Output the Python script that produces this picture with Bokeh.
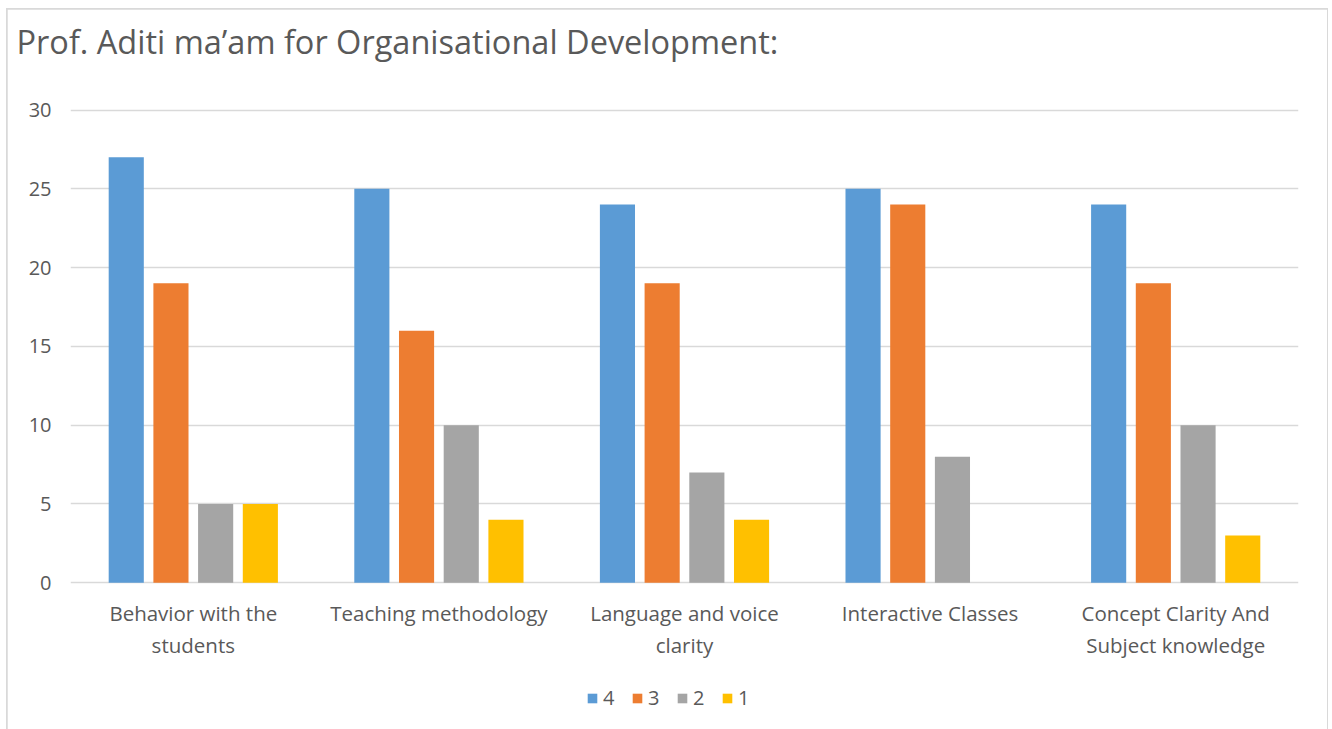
from bokeh.plotting import figure
from bokeh.models import ColumnDataSource, FactorRange, Range1d, FixedTicker, Legend, LegendItem, Title
from bokeh.transform import dodge
from bokeh.core.properties import value
from bokeh.embed import file_html
from bokeh.resources import INLINE

title_text = "Prof. Aditi ma\u2019am for Organisational Development:"
categories = ["Behavior with the students", "Teaching methodology", "Language and voice clarity",
              "Interactive Classes", "Concept Clarity And Subject knowledge"]
tick_labels = ["Behavior with the\nstudents", "Teaching methodology", "Language and voice\nclarity",
               "Interactive Classes", "Concept Clarity And\nSubject knowledge"]
series_names = ["4", "3", "2", "1"]
s4 = [27, 25, 24, 25, 24]
s3 = [19, 16, 19, 24, 19]
s2 = [5, 10, 7, 8, 10]
s1 = [5, 4, 4, 0, 3]
y_ticks = [0, 5, 10, 15, 20, 25, 30]

colors = ["#5B9BD5", "#ED7D31", "#A5A5A5", "#FFC000"]
FONT = "Open Sans"
TXT = "#595959"

source = ColumnDataSource(dict(cat=categories, lab=tick_labels, s4=s4, s3=s3, s2=s2, s1=s1))

p = figure(frame_width=1228, frame_height=616, output_backend="svg", toolbar_location=None,
           x_range=FactorRange(*categories, range_padding=0), y_range=Range1d(-9.0, 30.1),
           min_border_left=63, min_border_right=29, min_border_top=99, min_border_bottom=5)
p.x_range.factor_padding = 0
p.title_location = None

spacer = Title(text=".", text_font_size="2px", text_color="#FFFFFF", standoff=32)
p.add_layout(spacer, "above")
title = Title(text=title_text, align="left", offset=-54, standoff=16, vertical_align="top",
              text_font=FONT, text_font_size="32.5px", text_font_style="normal", text_color=TXT)
p.add_layout(title, "above")

offsets = [-0.273, -0.091, 0.091, 0.273]
cols = ["s4", "s3", "s2", "s1"]
items = []
for off, col, c, name in zip(offsets, cols, colors, series_names):
    r = p.vbar(x=dodge("cat", off, range=p.x_range), top=col, width=0.143, source=source,
               fill_color=c, line_color=None)
    items.append(LegendItem(label=name, renderers=[r]))

# category labels drawn under the zero line
p.text(x="cat", y=-1.05, text="lab", source=source, text_font=value(FONT), text_font_size="20.5px",
       text_color=TXT, text_align="center", text_baseline="top", text_line_height=1.12)

legend = Legend(items=items, orientation="horizontal", location=(516, 13),
                glyph_width=12, glyph_height=12, label_standoff=5, spacing=8,
                label_text_font=FONT, label_text_font_size="20px", label_text_color=TXT,
                border_line_color=None, background_fill_alpha=0, margin=0, padding=2)
p.add_layout(legend, "center")

p.outline_line_color = None
p.xaxis.visible = False
p.xgrid.grid_line_color = None
p.ygrid.grid_line_color = "#D9D9D9"
p.ygrid.grid_line_width = 1.5
p.yaxis.ticker = FixedTicker(ticks=y_ticks)
p.yaxis.axis_line_color = None
p.yaxis.major_tick_line_color = None
p.yaxis.minor_tick_line_color = None
p.yaxis.major_label_standoff = 13
p.yaxis.major_label_text_font = FONT
p.yaxis.major_label_text_font_size = "20px"
p.yaxis.major_label_text_color = TXT

p.styles = {"outline": "2px solid #D9D9D9", "outline-offset": "-1px",
            "margin-left": "7px", "margin-top": "9px"}

open("out.html", "w").write(file_html(p, INLINE))
